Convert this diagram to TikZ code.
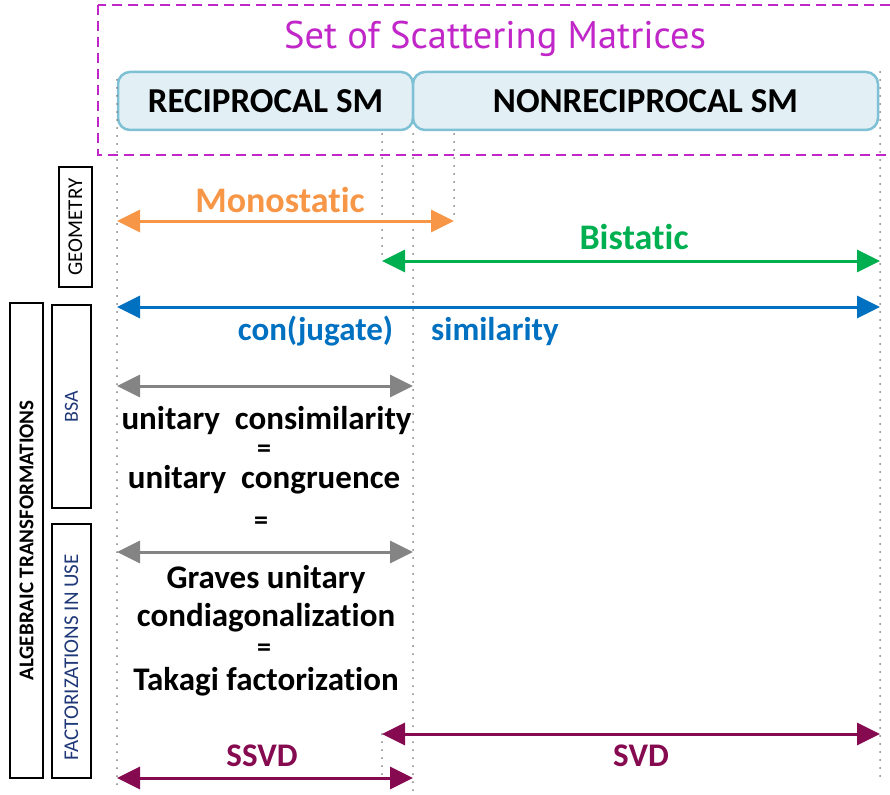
\documentclass[tikz,border=0pt]{standalone}
\usepackage{fontspec}
\setmainfont{Carlito}[Ligatures=NoCommon]
\newfontfamily\titlefont{PT Sans}
\usetikzlibrary{arrows.meta}
\definecolor{setMagenta}{RGB}{192,38,200}
\definecolor{smFill}{RGB}{226,240,245}
\definecolor{smBorder}{RGB}{126,192,212}
\definecolor{guideGray}{RGB}{128,128,128}
\definecolor{monoOrange}{RGB}{247,150,70}
\definecolor{biGreen}{RGB}{0,176,80}
\definecolor{conBlue}{RGB}{0,112,192}
\definecolor{uniGray}{RGB}{132,132,132}
\definecolor{svdPurple}{RGB}{134,10,80}
\definecolor{sideBlue}{RGB}{31,56,120}
\tikzstyle{node_sm} = [draw=smBorder, fill=smFill, rounded corners=12pt, line width=2.5pt, minimum height=58pt, inner sep=0pt, font=\bfseries\fontsize{35}{40}\selectfont]
\tikzstyle{node_side} = [draw, line width=2.5pt, rotate=90, inner sep=0pt, font=\fontsize{21}{24}\selectfont]
\tikzstyle{node_label} = [inner sep=0pt, anchor=base, font=\bfseries\fontsize{33}{36}\selectfont]
\tikzstyle{node_eq} = [inner sep=0pt, anchor=base, font=\bfseries\fontsize{28}{30}\selectfont]
\tikzstyle{edge_guide} = [draw=guideGray, line width=2pt, line cap=round, dash pattern=on 0pt off 8pt]
\tikzstyle{edge_range} = [{Triangle[length=23pt,width=22pt]}-{Triangle[length=23pt,width=22pt]}, line width=3pt]

\begin{document}
\begin{tikzpicture}[x=1pt, y=-1pt]
		\useasboundingbox (0,0) rectangle (890,794);
		\draw[setMagenta, line width=2.5pt, dash pattern=on 10pt off 6pt] (98,5) rectangle (896,155);
		\node (Title) at (495,49) [anchor=base, inner sep=0pt, text=setMagenta, font=\titlefont\fontsize{38.5}{42}\selectfont] {Set of Scattering Matrices};
		\node (Rec) at (265.5,101) [node_sm, minimum width=295pt] {RECIPROCAL SM};
		\node (Nonrec) at (645.5,101) [node_sm, minimum width=465pt] {NONRECIPROCAL SM};
		
		\coordinate (G_left_top) at (117,80);
		\coordinate (G_left_bot) at (117,790);
		\coordinate (G_right_top) at (880,72);
		\coordinate (G_right_bot) at (880,780);
		\coordinate (G_rec_top) at (413,134);
		\coordinate (G_rec_bot) at (413,790);
		\coordinate (G_bi_top) at (382,134);
		\coordinate (G_svd_top) at (382,734);
		\coordinate (G_mono_top) at (454,134);
		
		\coordinate (Mono_a) at (117,221);
		\coordinate (Mono_b) at (454,221);
		\coordinate (Bi_a) at (382,261);
		\coordinate (Bi_b) at (880,261);
		\coordinate (Con_a) at (117,307);
		\coordinate (Con_b) at (880,307);
		\coordinate (Uni_a) at (117,386);
		\coordinate (Uni_b) at (413,386);
		\coordinate (Takagi_a) at (117,552);
		\coordinate (Takagi_b) at (413,552);
		\coordinate (Svd_a) at (382,734);
		\coordinate (Svd_b) at (880,734);
		\coordinate (Ssvd_a) at (117,778);
		\coordinate (Ssvd_b) at (413,778);
		
		\draw[edge_guide] (G_left_top)--(G_left_bot);
		\draw[edge_guide] (G_right_top)--(G_right_bot);
		\draw[edge_guide] (G_rec_top)--(G_rec_bot);
		\draw[edge_guide] (G_bi_top)--(Bi_a);
		\draw[edge_guide] (G_svd_top)--(Ssvd_a -| G_svd_top);
		\draw[edge_guide] (G_mono_top)--(Mono_b);
		
		\draw[edge_range, monoOrange] (Mono_a)--(Mono_b);
		\draw[edge_range, biGreen] (Bi_a)--(Bi_b);
		\draw[edge_range, conBlue] (Con_a)--(Con_b);
		\draw[edge_range, uniGray] (Uni_a)--(Uni_b);
		\draw[edge_range, uniGray] (Takagi_a)--(Takagi_b);
		\draw[edge_range, svdPurple] (Svd_a)--(Svd_b);
		\draw[edge_range, svdPurple] (Ssvd_a)--(Ssvd_b);
		
		\node (Mono) at (280,213) [node_label, text=monoOrange, font=\bfseries\fontsize{36}{40}\selectfont] {Monostatic};
		\node (Bi) at (634,249) [node_label, text=biGreen, font=\bfseries\fontsize{36}{40}\selectfont] {Bistatic};
		\node (Con) at (315.5,340) [node_label, text=conBlue] {con(jugate)};
		\node (Sim) at (495,340) [node_label, text=conBlue] {similarity};
		\node (Uni1) at (266.5,429) [node_label] {unitary\ \ consimilarity};
		\node (Eq1) at (264,457) [node_eq] {=};
		\node (Uni2) at (264,488) [node_label] {unitary\ \ congruence};
		\node (Eq2) at (261,529) [node_eq] {=};
		\node (Graves) at (266,588) [node_label] {Graves unitary};
		\node (Condiag) at (266,626) [node_label] {condiagonalization};
		\node (Eq3) at (264,656) [node_eq] {=};
		\node (Takagi) at (266,690) [node_label] {Takagi factorization};
		\node (Ssvd) at (262,766) [node_label, text=svdPurple] {SSVD};
		\node (Svd) at (641,766) [node_label, text=svdPurple] {SVD};
		
		\node (Geo) at (75.5,227) [node_side, minimum width=120pt, minimum height=33pt] {GEOMETRY};
		\node (Alg) at (26.5,540.5) [node_side, minimum width=475pt, minimum height=33pt, font=\bfseries\fontsize{21}{24}\selectfont] {ALGEBRAIC TRANSFORMATIONS};
		\node (Bsa_box) at (71.5,406.5) [node_side, minimum width=203pt, minimum height=39pt] {};
		\node (Bsa) at (71.5,407) [rotate=90, inner sep=0pt, text=sideBlue, font=\fontsize{20}{24}\selectfont] {BSA};
		\node (Fact_box) at (71.5,651) [node_side, minimum width=254pt, minimum height=39pt] {};
		\node (Fact) at (71.5,657.5) [rotate=90, inner sep=0pt, text=sideBlue, font=\fontsize{21}{24}\selectfont] {FACTORIZATIONS IN USE};
\end{tikzpicture}
\end{document}
